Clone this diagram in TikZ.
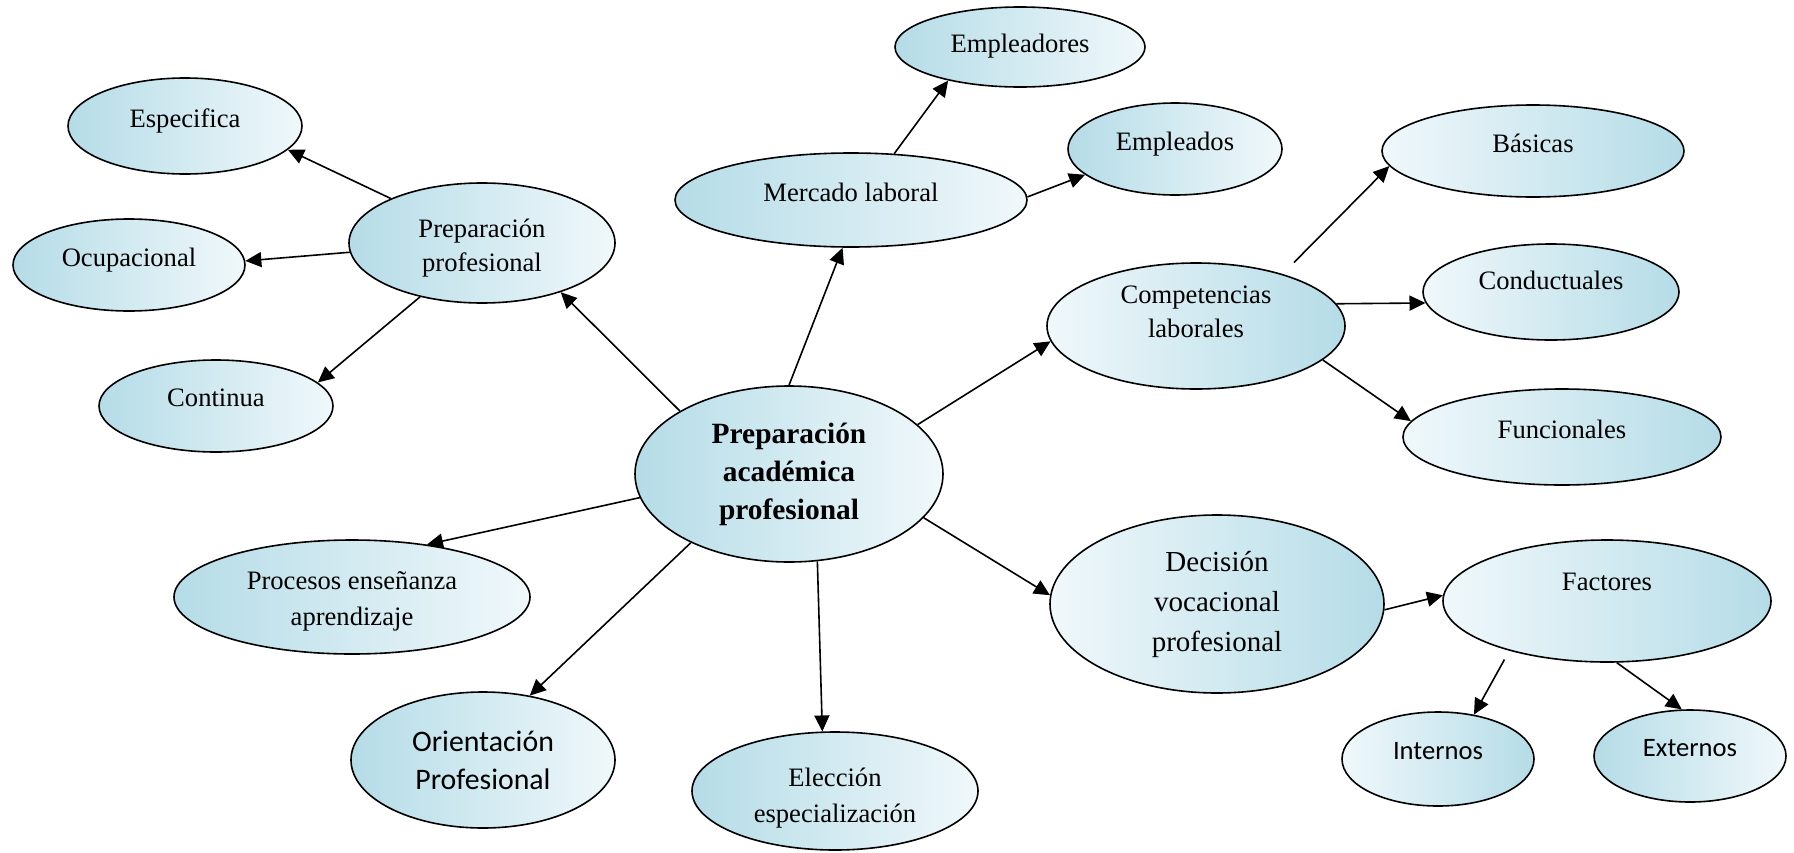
\documentclass[tikz,border=0pt]{standalone}
\usepackage{fontspec}
\setmainfont{Liberation Serif}
\newfontfamily\calibri{Carlito}
\usetikzlibrary{shapes.geometric,arrows.meta}
\definecolor{celeste}{HTML}{B5DCE7}
\definecolor{blanco}{HTML}{F0F8FB}

\begin{document}
\begin{tikzpicture}[x=50pt, y=-50pt,
	globo/.style={ellipse, draw, line width=.8pt, left color=celeste, right color=blanco,
		inner sep=1pt, align=center, font=\fontsize{13.3}{17}\selectfont},
	globoinv/.style={globo, left color=blanco, right color=celeste},
	alto/.style={text depth=8pt},
	flecha/.style={-{Triangle[length=8pt,width=7.5pt]}, line width=.8pt}]
	\useasboundingbox (0,0) rectangle (17.94,8.52);

	% centro
	\node[globo, minimum width=154pt, minimum height=88pt, font=\fontsize{14.7}{19}\selectfont\bfseries]
		(cen) at (7.89,4.74) {Preparación\\académica\\profesional};

	% preparación profesional
	\node[globo, text height=31pt, minimum width=133pt, minimum height=60pt] (prep) at (4.82,2.43) {Preparación\\profesional};
	\node[globo, alto, minimum width=117pt, minimum height=48pt] (espec) at (1.85,1.26) {Especifica};
	\node[globo, alto, minimum width=116pt, minimum height=46pt] (ocup) at (1.29,2.65) {Ocupacional};
	\node[globo, alto, minimum width=117pt, minimum height=46pt] (cont) at (2.16,4.06) {Continua};

	% mercado laboral
	\node[globo, alto, minimum width=176pt, minimum height=47pt] (merc) at (8.51,2.00) {Mercado laboral};
	\node[globo, text depth=4pt, minimum width=125pt, minimum height=40pt] (empres) at (10.20,0.47) {Empleadores};
	\node[globo, alto, minimum width=107pt, minimum height=46pt] (emplea) at (11.75,1.49) {Empleados};

	% competencias
	\node[globoinv, text depth=14pt, minimum width=149pt, minimum height=63pt] (comp) at (11.96,3.26) {Competencias\\laborales};
	\node[globoinv, alto, minimum width=151pt, minimum height=46pt] (basic) at (15.33,1.51) {Básicas};
	\node[globoinv, text depth=11.5pt, minimum width=128pt, minimum height=48pt] (cond) at (15.51,2.92) {Conductuales};
	\node[globoinv, alto, minimum width=159pt, minimum height=48pt] (func) at (15.62,4.37) {Funcionales};

	% decisión vocacional
	\node[globoinv, minimum width=167pt, minimum height=89pt, font=\fontsize{14.5}{20}\selectfont]
		(decis) at (12.17,6.04) {Decisión\\vocacional\\profesional};
	\node[globoinv, text depth=19pt, minimum width=164pt, minimum height=61pt] (fact) at (16.07,6.01) {Factores};
	\node[globoinv, alto, minimum width=96pt, minimum height=47pt, font=\calibri\fontsize{13.3}{16}\selectfont]
		(intern) at (14.38,7.59) {Internos};
	\node[globo, alto, minimum width=96pt, minimum height=46pt, font=\calibri\fontsize{13.3}{16}\selectfont]
		(extern) at (16.90,7.56) {Externos};

	% abajo
	\node[globo, text height=31.5pt, minimum width=178pt, minimum height=57pt, font=\fontsize{13.3}{18}\selectfont]
		(proc) at (3.52,5.97) {Procesos enseñanza\\aprendizaje};
	\node[globo, minimum width=132pt, minimum height=68pt, font=\calibri\fontsize{14.9}{19}\selectfont]
		(orient) at (4.83,7.60) {Orientación\\Profesional};
	\node[globo, text height=34pt, minimum width=143pt, minimum height=59pt, font=\fontsize{13.3}{18}\selectfont]
		(elecc) at (8.35,7.91) {Elección\\especialización};

	% flechas
	\foreach \de/\a in {cen.150/prep.-32, prep.154/espec.-13, prep.184/ocup.2, prep.221/cont.13,
		cen.90/merc.260, merc.47/empres.205, merc.1/emplea.196,
		cen.21/comp.186, comp.9/cond.185, comp.-15/func.174,
		cen.-18/decis.177, decis.-2/fact.178, fact.-81/extern.100,
		cen.189/proc.35, cen.215/orient.54, cen.-72/elecc.102}{
		\draw[flecha] (\de) -- (\a);
	}
	\draw[flecha, shorten <=8pt] (comp.31) -- (basic.186);
	\draw[flecha, shorten <=5pt] (fact.207) -- (intern.51);
\end{tikzpicture}
\end{document}
